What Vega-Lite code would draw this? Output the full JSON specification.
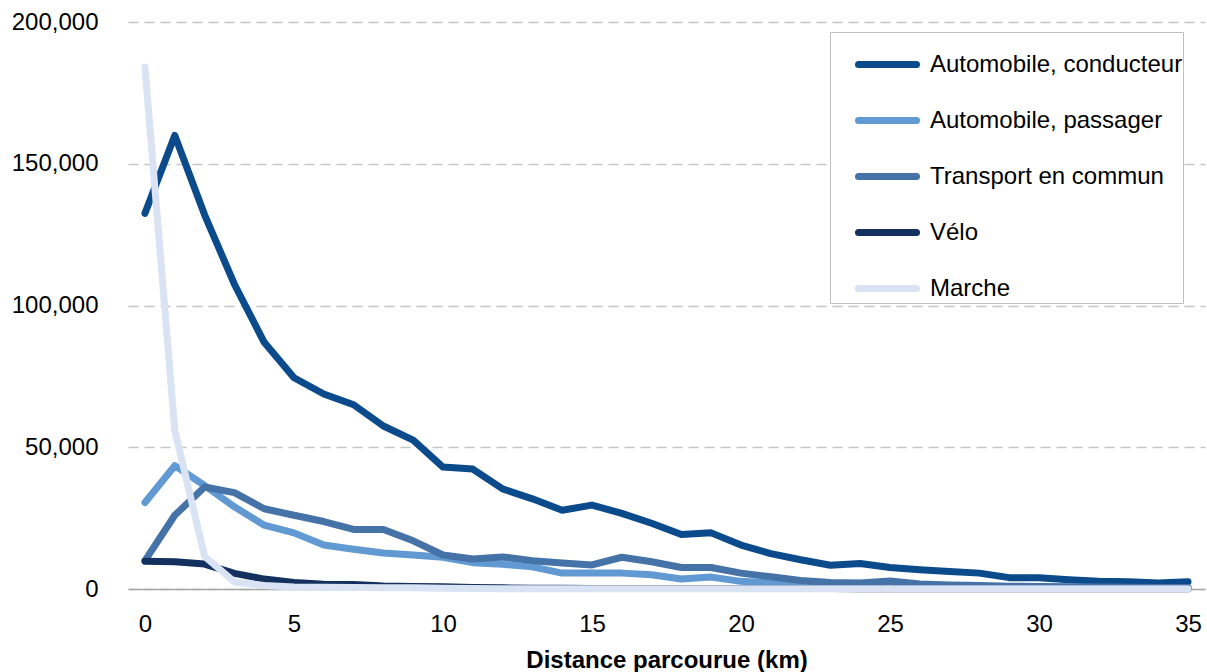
{
  "$schema": "https://vega.github.io/schema/vega-lite/v6.json",
  "autosize": {"type": "none"},
  "width": 1077,
  "height": 567,
  "padding": {"left": 128, "top": 22, "right": 2, "bottom": 83},
  "background": "white",
  "config": {
    "font": "Liberation Sans",
    "view": {"stroke": null}
  },
  "datasets": {
    "series": [
      {"mode": "Automobile, conducteur", "d": [0,1,2,3,4,5,6,7,8,9,10,11,12,13,14,15,16,17,18,19,20,21,22,23,24,25,26,27,28,29,30,31,32,33,34,35], "v": [132500,160000,132000,107500,87000,74500,68800,65000,57500,52500,43000,42300,35300,31800,27800,29600,26700,23200,19200,19800,15500,12500,10300,8400,9000,7600,6800,6200,5600,4000,4000,3300,2700,2600,2100,2600]},
      {"mode": "Automobile, passager", "d": [0,1,2,3,4,5,6,7,8,9,10,11,12,13,14,15,16,17,18,19,20,21,22,23,24,25,26,27,28,29,30,31,32,33,34,35], "v": [30500,43500,36500,29000,22500,19800,15500,14000,12700,12000,11200,9300,8700,7800,5600,5600,5600,5000,3500,4200,2700,2200,2000,1800,1600,1500,1200,1000,900,800,700,600,500,500,400,400]},
      {"mode": "Transport en commun", "d": [0,1,2,3,4,5,6,7,8,9,10,11,12,13,14,15,16,17,18,19,20,21,22,23,24,25,26,27,28,29,30,31,32,33,34,35], "v": [10000,26000,36000,34000,28300,26000,23800,21000,21000,17000,12000,10600,11300,10000,9200,8500,11200,9600,7600,7600,5600,4300,3000,2300,2100,2800,1800,1400,1200,1000,900,800,700,600,500,500]},
      {"mode": "Vélo", "d": [0,1,2,3,4,5,6,7,8,9,10,11,12,13,14,15,16,17,18,19,20,21,22,23,24,25,26,27,28,29,30,31,32,33,34,35], "v": [9800,9600,8800,5500,3500,2300,1700,1600,1100,900,800,500,400,300,300,200,200,200,200,200,150,150,150,150,100,100,100,100,100,100,100,100,100,100,100,100]},
      {"mode": "Marche", "d": [0,1,2,3,4,5,6,7,8,9,10,11,12,13,14,15,16,17,18,19,20,21,22,23,24,25,26,27,28,29,30,31,32,33,34,35], "v": [184000,56000,11500,2500,1200,700,600,500,400,400,300,200,100,100,100,100,100,100,100,100,100,100,100,100,100,100,100,100,100,100,100,100,100,100,100,100]}
    ]
  },
  "data": {"name": "series"},
  "transform": [
    {"flatten": ["d", "v"]}
  ],
  "mark": {"type": "line", "strokeWidth": 7, "strokeCap": "round", "strokeJoin": "round"},
  "encoding": {
    "x": {
      "field": "d", "type": "quantitative",
      "scale": {"domain": [-0.57, 35.57], "nice": false, "zero": false},
      "axis": {
        "values": [0,5,10,15,20,25,30,35],
        "title": "Distance parcourue (km)",
        "titleFontSize": 24, "titleFontWeight": "bold", "titleColor": "#000",
        "titlePadding": 12,
        "labelFontSize": 24, "labelColor": "#000", "labelPadding": 23,
        "labelFlush": false,
        "ticks": false, "grid": false,
        "domainColor": "#A6A6A6", "domainWidth": 1.5
      }
    },
    "y": {
      "field": "v", "type": "quantitative",
      "scale": {"domain": [0, 200000], "nice": false},
      "axis": {
        "values": [0,50000,100000,150000,200000],
        "format": ",d",
        "title": null,
        "labelFontSize": 24, "labelColor": "#000", "labelPadding": 30,
        "ticks": false, "domain": false,
        "grid": true, "gridColor": "#C6C6C6", "gridWidth": 1.5, "gridDash": [10, 6]
      }
    },
    "color": {
      "field": "mode", "type": "nominal",
      "scale": {
        "domain": ["Automobile, conducteur", "Automobile, passager", "Transport en commun", "Vélo", "Marche"],
        "range": ["#0B4A8B", "#6199D3", "#4572A7", "#14305F", "#DAE3F3"]
      },
      "legend": {
        "title": null,
        "orient": "none",
        "legendX": 702,
        "legendY": 10,
        "symbolType": "stroke",
        "symbolSize": 3364,
        "symbolStrokeWidth": 7,
        "symbolOffset": 25,
        "labelFontSize": 24,
        "labelColor": "#000",
        "labelOffset": 10,
        "labelLimit": 400,
        "rowPadding": 9,
        "padding": 0,
        "strokeColor": "#BFBFBF",
        "fillColor": "white",
        "encode": {"symbols": {"update": {"strokeCap": {"value": "round"}}}}
      }
    }
  }
}
